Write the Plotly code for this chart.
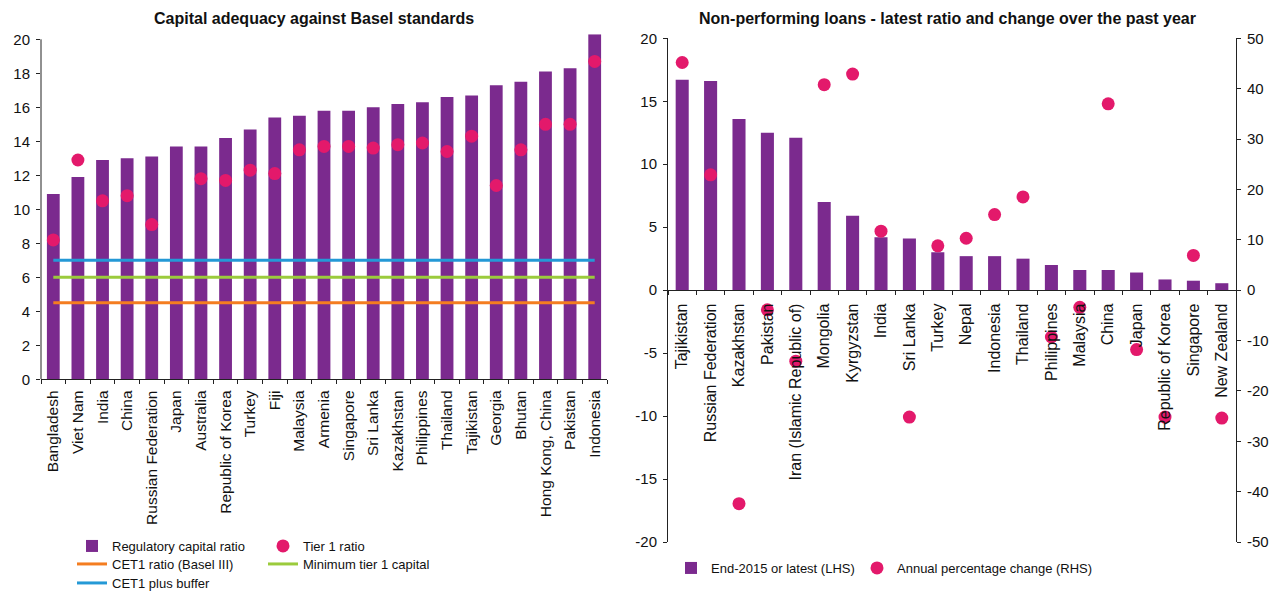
import plotly.graph_objects as go

# ---- left panel data: capital adequacy ----
cap_countries = ["Bangladesh", "Viet Nam", "India", "China", "Russian Federation", "Japan",
                 "Australia", "Republic of Korea", "Turkey", "Fiji", "Malaysia", "Armenia",
                 "Singapore", "Sri Lanka", "Kazakhstan", "Philippines", "Thailand", "Tajikistan",
                 "Georgia", "Bhutan", "Hong Kong, China", "Pakistan", "Indonesia"]
reg_capital = [10.9, 11.9, 12.9, 13.0, 13.1, 13.7, 13.7, 14.2, 14.7, 15.4, 15.5, 15.8,
               15.8, 16.0, 16.2, 16.3, 16.6, 16.7, 17.3, 17.5, 18.1, 18.3, 20.3]
tier1 = [8.2, 12.9, 10.5, 10.8, 9.1, None, 11.8, 11.7, 12.3, 12.1, 13.5, 13.7,
         13.7, 13.6, 13.8, 13.9, 13.4, 14.3, 11.4, 13.5, 15.0, 15.0, 18.7]
cet1_ratio = [4.5] * len(cap_countries)
min_tier1 = [6.0] * len(cap_countries)
cet1_buffer = [7.0] * len(cap_countries)

# ---- right panel data: non-performing loans ----
npl_countries = ["Tajikistan", "Russian Federation", "Kazakhstan", "Pakistan",
                 "Iran (Islamic Republic of)", "Mongolia", "Kyrgyzstan", "India", "Sri Lanka",
                 "Turkey", "Nepal", "Indonesia", "Thailand", "Philippines", "Malaysia", "China",
                 "Japan", "Republic of Korea", "Singapore", "New Zealand"]
npl_ratio = [16.7, 16.6, 13.6, 12.5, 12.1, 7.0, 5.9, 4.2, 4.1, 3.0, 2.7, 2.7, 2.5, 2.0,
             1.6, 1.6, 1.4, 0.85, 0.75, 0.55]
npl_change = [45.2, 22.9, -42.4, -3.9, -14.1, 40.8, 42.9, 11.7, -25.2, 8.8, 10.3, 15.0,
              18.5, -9.3, -3.4, 37.0, -11.8, -25.2, 6.9, -25.4]

lhs_ticks = [-20, -15, -10, -5, 0, 5, 10, 15, 20]
lhs_labels = ["-20", "-15", "-10", "-5", "0", "5", "10", "15", "20"]
rhs_ticks = [-50, -40, -30, -20, -10, 0, 10, 20, 30, 40, 50]
rhs_labels = ["-50", "-40", "-30", "-20", "-10", "0", "10", "20", "30", "40", "50"]

PURPLE = "#7B2A8E"
PINK = "#E3196B"
ORANGE = "#F47D20"
GREEN = "#9BCB3C"
BLUE = "#2499D6"
FONT = "Liberation Sans, Arial, sans-serif"

W, H = 1273, 591


def px_x(v):
    return v / W


def px_y(v):
    return 1 - v / H


fig = go.Figure()

# left panel
fig.add_trace(go.Bar(x=cap_countries, y=reg_capital, name="Regulatory capital ratio",
                     marker=dict(color=PURPLE, line=dict(width=0)), width=0.52,
                     xaxis="x", yaxis="y", legend="legend", legendwidth=146))
fig.add_trace(go.Scatter(x=cap_countries, y=cet1_ratio, name="CET1 ratio (Basel III)",
                         mode="lines", line=dict(color=ORANGE, width=3),
                         xaxis="x", yaxis="y", legend="legend2", legendwidth=146))
fig.add_trace(go.Scatter(x=cap_countries, y=min_tier1, name="Minimum tier 1 capital",
                         mode="lines", line=dict(color=GREEN, width=3),
                         xaxis="x", yaxis="y", legend="legend2", legendwidth=160))
fig.add_trace(go.Scatter(x=cap_countries, y=cet1_buffer, name="CET1 plus buffer",
                         mode="lines", line=dict(color=BLUE, width=3),
                         xaxis="x", yaxis="y", legend="legend3", legendwidth=146))
fig.add_trace(go.Scatter(x=cap_countries, y=tier1, name="Tier 1 ratio", mode="markers",
                         marker=dict(color=PINK, size=13), cliponaxis=False,
                         xaxis="x", yaxis="y", legend="legend", legendwidth=120))

# right panel
fig.add_trace(go.Bar(x=npl_countries, y=npl_ratio, name="End-2015 or latest (LHS)",
                     marker=dict(color=PURPLE, line=dict(width=0)), width=0.46,
                     xaxis="x2", yaxis="y2", legend="legend4", legendwidth=141))
fig.add_trace(go.Scatter(x=npl_countries, y=npl_change, name="Annual percentage change (RHS)",
                         mode="markers", marker=dict(color=PINK, size=13), cliponaxis=False,
                         xaxis="x2", yaxis="y3", legend="legend4", legendwidth=210))

axis_common = dict(showgrid=False, zeroline=False, showline=True, linecolor="#222",
                   linewidth=1, ticks="outside", ticklen=4, tickcolor="#222",
                   automargin=False, tickfont=dict(size=15, color="#111"))

y2_dom = [px_y(542), px_y(38.3)]
legend_common = dict(orientation="h", xanchor="left", yanchor="middle",
                     font=dict(size=13), bgcolor="rgba(0,0,0,0)")

fig.update_layout(
    width=W, height=H,
    template="none",
    paper_bgcolor="white", plot_bgcolor="white",
    font=dict(family=FONT, color="#111"),
    margin=dict(l=0, r=0, t=0, b=0, autoexpand=False),
    xaxis=dict(axis_common, domain=[px_x(41), px_x(607)], anchor="y", type="category",
               range=[-0.5, len(cap_countries) - 0.5], tickson="boundaries",
               tickangle=-90, ticklabelstandoff=4, tickfont=dict(size=15.5, color="#111")),
    yaxis=dict(axis_common, domain=[px_y(379.3), px_y(34.2)], anchor="x", range=[0, 20.3],
               tickvals=list(range(0, 21, 2)), showline=False, ticklabelstandoff=3),
    xaxis2=dict(axis_common, domain=[px_x(668), px_x(1236)], anchor="free",
                position=(y2_dom[0] + y2_dom[1]) / 2, type="category",
                range=[-0.5, len(npl_countries) - 0.5], tickson="boundaries",
                tickangle=-90, ticklabelstandoff=6, tickfont=dict(size=16, color="#111")),
    yaxis2=dict(axis_common, domain=y2_dom, anchor="x2", range=[-20, 20],
                tickvals=lhs_ticks, ticktext=lhs_labels, ticklabelstandoff=3),
    yaxis3=dict(axis_common, domain=y2_dom, anchor="x2", overlaying="y2", side="right",
                range=[-50, 50], tickvals=rhs_ticks, ticktext=rhs_labels, ticklabelstandoff=3),
    legend=dict(legend_common, x=px_x(72), y=px_y(546)),
    legend2=dict(legend_common, x=px_x(72), y=px_y(564)),
    legend3=dict(legend_common, x=px_x(72), y=px_y(583)),
    legend4=dict(legend_common, x=px_x(671), y=px_y(568)),
    annotations=[
        dict(text="<b>Capital adequacy against Basel standards</b>", x=px_x(313.5),
             y=px_y(19), xref="paper", yref="paper", showarrow=False,
             xanchor="center", yanchor="middle", font=dict(size=16)),
        dict(text="<b>Non-performing loans - latest ratio and change over the past year</b>",
             x=px_x(947.5), y=px_y(19), xref="paper", yref="paper", showarrow=False,
             xanchor="center", yanchor="middle", font=dict(size=16)),
    ],
    shapes=[
        dict(type="line", xref="x domain", yref="y", x0=0, x1=0, y0=0, y1=20,
             line=dict(color="#222", width=1)),
    ],
)

fig.write_html("out.html", config={"displayModeBar": False},
               post_script="document.body.style.margin='0px';")
